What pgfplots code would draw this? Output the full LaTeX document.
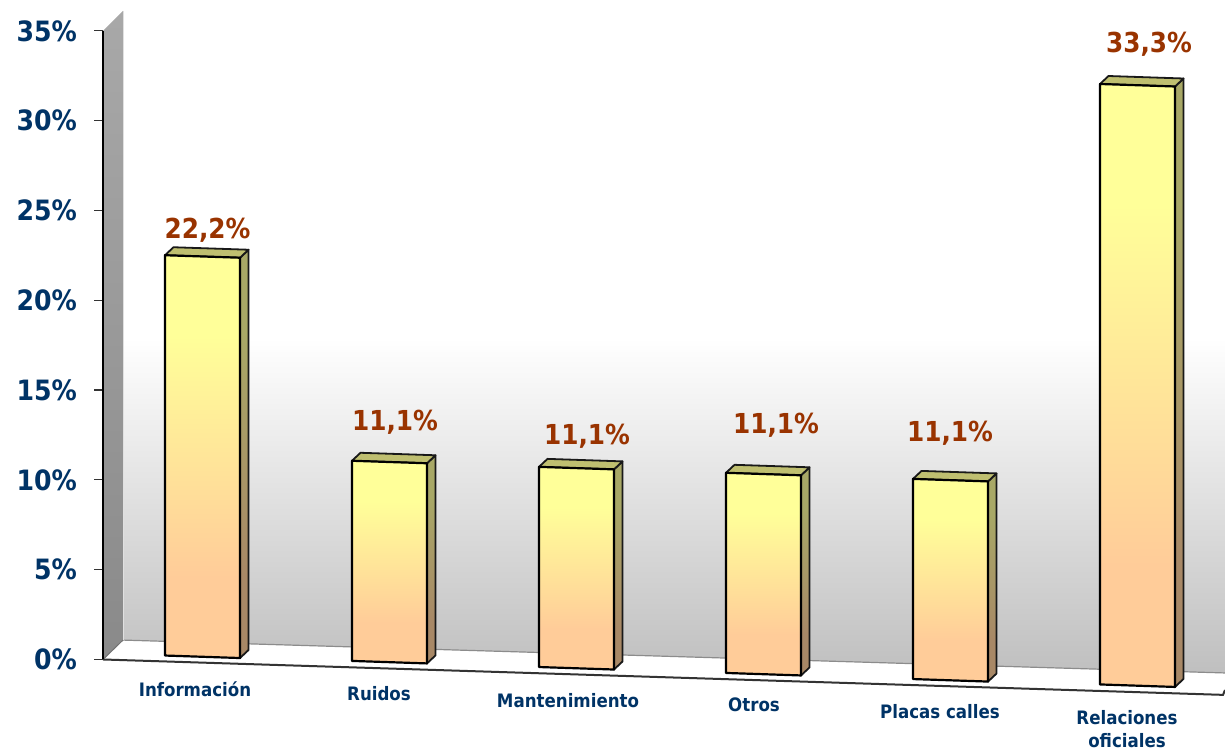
\documentclass[border=0pt]{standalone}
\usepackage{fontspec}
\setmainfont{DejaVu Sans Condensed}
\usepackage{pgfplots}
\pgfplotsset{compat=1.18}

\definecolor{navy}{HTML}{003366}
\definecolor{rust}{HTML}{993300}
\definecolor{frontY}{HTML}{FFFF99}
\definecolor{frontO}{HTML}{FFCC99}
\definecolor{sideY}{HTML}{A8A866}
\definecolor{sideO}{HTML}{A88866}
\definecolor{topY}{HTML}{BFBF70}

\pgfdeclareverticalshading{barfront}{100bp}{color(0bp)=(frontO); color(35bp)=(frontO); color(65bp)=(frontY); color(100bp)=(frontY)}
\pgfdeclareverticalshading{barside}{100bp}{color(0bp)=(sideO); color(35bp)=(sideO); color(65bp)=(sideY); color(100bp)=(sideY)}

% x left edge (px), base of the left edge (%), value (%)
\newcommand{\threedbar}[3]{%
  \addplot[draw=black!90, line width=1.8pt, line join=round, shade, shading=barside]
    coordinates {({#1+75},{#2+#3*1.004-0.139}) ({#1+83.5},{#2+#3*1.004-0.139+0.445}) ({#1+83.5},{#2-0.139+0.445}) ({#1+75},{#2-0.139})} --cycle;
  \addplot[draw=black!90, line width=1.8pt, line join=round, fill=topY]
    coordinates {(#1,{#2+#3*1.004}) ({#1+8.5},{#2+#3*1.004+0.445}) ({#1+83.5},{#2+#3*1.004-0.139+0.445}) ({#1+75},{#2+#3*1.004-0.139})} --cycle;
  \addplot[draw=black, line width=2.2pt, line join=round, shade, shading=barfront]
    coordinates {(#1,{#2+#3*1.004}) ({#1+75},{#2+#3*1.004-0.139}) ({#1+75},{#2-0.139}) (#1,#2)} --cycle;
}

\begin{document}
\begin{tikzpicture}
\path[use as bounding box] (0pt,0pt) rectangle (1225pt,750pt);
\begin{axis}[
  at={(103pt,0pt)}, anchor=south west,
  width=1122pt, height=750pt, scale only axis,
  xmin=103, xmax=1225, ymin=-5.04, ymax=36.72,
  clip=false,
  axis line style={draw=none},
  xtick=\empty,
  ytick={0,5,...,35},
  ytick pos=left,
  tick align=outside,
  major tick length=9pt,
  y tick style={black!80, line width=1.2pt},
  yticklabel={\pgfmathprintnumber{\tick}\%},
  y tick label style={font=\fontsize{28}{30}\selectfont\bfseries, text=navy, anchor=east, inner sep=0pt, xshift=-17pt},
  /pgf/number format/assume math mode=true,
  nodes near coords,
  point meta=explicit symbolic,
  every node near coord/.append style={anchor=center, inner sep=0pt, align=center},
]
% walls and floor
\addplot[draw=none, top color=black!34, bottom color=black!46]
  coordinates {(103,35) (123,36.11) (123,1.08) (103,0)} --cycle;
\addplot[draw=none, top color=white, bottom color=black!25]
  coordinates {(123,17.9) (1225,17.9) (1225,-0.75) (123,1.08)} --cycle;
\addplot[draw=black!45, line width=1.2pt] coordinates {(123,1.08) (1225,-0.75)};
\addplot[draw=black!12, line width=1pt] coordinates {(123,36.11) (123,1.08)};
\addplot[draw=black!55, line width=1pt] coordinates {(103,0) (123,1.08)};
\addplot[draw=black!80, line width=2pt] coordinates {(103,0) (1223,-1.97) (1225,-1.7)};
\addplot[draw=black, line width=2pt] coordinates {(103,0) (103,35)};
% bars
\threedbar{165}{0.22}{22.2}
\threedbar{352}{-0.08}{11.1}
\threedbar{539}{-0.42}{11.1}
\threedbar{726}{-0.75}{11.1}
\threedbar{913}{-1.09}{11.1}
\threedbar{1100}{-1.39}{33.3}
% value labels
\addplot[draw=none, mark=none,
  every node near coord/.append style={font=\fontsize{27.5}{30}\selectfont\bfseries, text=rust}]
  coordinates {
  (207.5,23.91) [22,2\%]
  (395,13.22) [11,1\%]
  (587,12.44) [11,1\%]
  (776,13.05) [11,1\%]
  (950,12.61) [11,1\%]
  (1149,34.27) [33,3\%]
  };
% category labels
\addplot[draw=none, mark=none,
  every node near coord/.append style={font=\fontsize{18.5}{23}\selectfont\bfseries, text=navy}]
  coordinates {
  (195,-1.64) [Información]
  (379,-1.92) [Ruidos]
  (568,-2.31) [Mantenimiento]
  (754,-2.53) [Otros]
  (940,-2.92) [Placas calles]
  (1127,-3.87) [Relaciones\\oficiales]
  };
\end{axis}
\end{tikzpicture}
\end{document}
